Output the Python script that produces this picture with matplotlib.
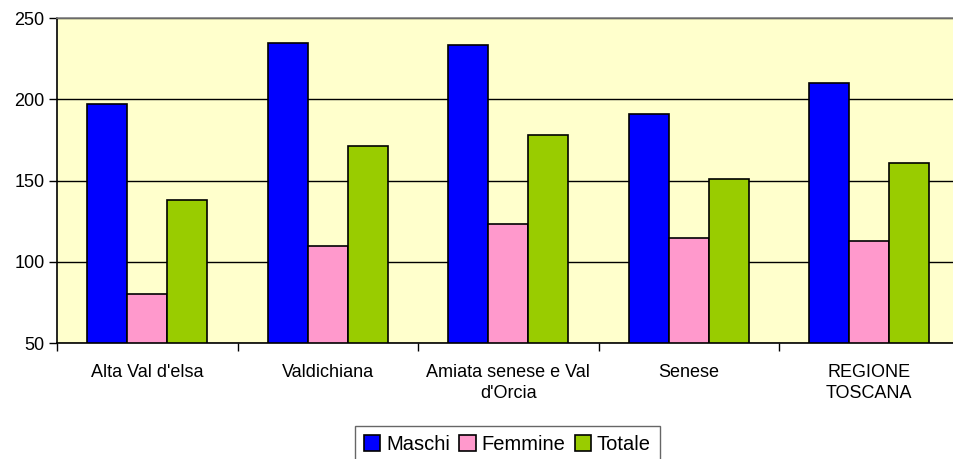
import numpy as np
import matplotlib
matplotlib.use('Agg')
import matplotlib.pyplot as plt

plt.rcParams['font.family'] = ['Liberation Sans', 'DejaVu Sans']

categories = ["Alta Val d'elsa", "Valdichiana", "Amiata senese e Val\nd'Orcia",
              "Senese", "REGIONE\nTOSCANA"]
maschi = [197, 234.5, 233.5, 191, 210]
femmine = [80, 110, 123, 114.5, 113]
totale = [138, 171, 178, 151, 160.5]

series = [("Maschi", maschi, "#0000FF"),
          ("Femmine", femmine, "#FF99CC"),
          ("Totale", totale, "#99CC00")]

fig = plt.figure(figsize=(9.54, 4.59), dpi=100)
ax = fig.add_axes([57 / 954, 116 / 459, 902.5 / 954, 325 / 459])
ax.set_facecolor("#FFFFCC")

x = np.arange(len(categories))
w = 0.222
for i, (name, vals, col) in enumerate(series):
    ax.bar(x + (i - 1) * w, np.array(vals) - 50, w, bottom=50, color=col,
           edgecolor="black", linewidth=1.2, label=name, zorder=3)

ax.set_xlim(-0.5, len(categories) - 0.5)
ax.set_ylim(50, 250)
ax.set_yticks([50, 100, 150, 200, 250])
ax.yaxis.grid(True, color="black", linewidth=1, zorder=0)
ax.set_axisbelow(True)

ax.set_xticks(x)
ax.set_xticklabels(categories, fontsize=13, linespacing=1.3)
ax.set_xticks(np.arange(-0.5, len(categories), 1), minor=True)
ax.tick_params(axis='x', which='major', length=0, pad=15)
ax.tick_params(axis='x', which='minor', length=6, width=1, color="black")
ax.tick_params(axis='y', length=6, width=1, labelsize=13, pad=3)

for s in ["left", "bottom"]:
    ax.spines[s].set_color("black")
    ax.spines[s].set_linewidth(1.2)
ax.spines["top"].set_color("#808080")
ax.spines["top"].set_linewidth(1.2)
ax.spines["right"].set_visible(False)

# legend box runs off the bottom edge in the original
leg = fig.legend(loc="upper center", bbox_to_anchor=(507.5 / 954, 1 - 426 / 459),
                 ncol=3, fontsize=14.5, frameon=True, fancybox=False,
                 handlelength=0.8, handleheight=0.8, handletextpad=0.3,
                 columnspacing=0.45, borderpad=0.45, borderaxespad=0)
leg.get_frame().set_edgecolor("#404040")
leg.get_frame().set_linewidth(1)

fig.savefig("out.png", dpi=100)
